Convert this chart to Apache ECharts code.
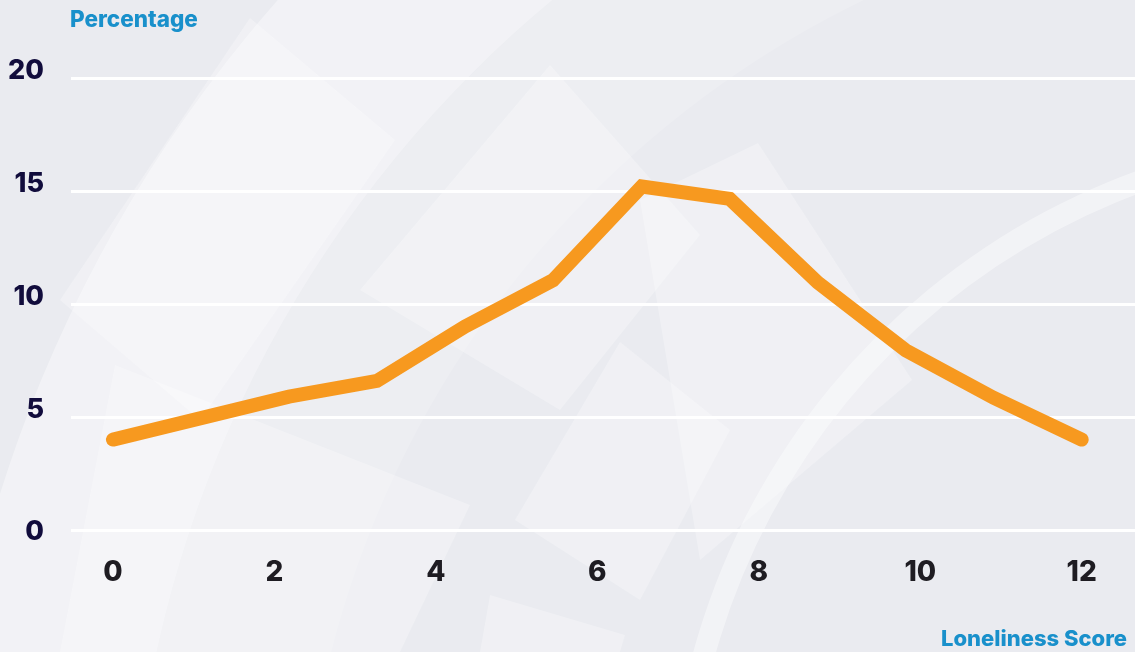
<!DOCTYPE html>
<html lang="en">
<head>
    <meta charset="UTF-8">
    <title>Loneliness Score</title>
    <script src="https://cdn.jsdelivr.net/npm/echarts@6/dist/echarts.min.js"></script>
    <style>
        html, body { margin: 0; padding: 0; background: #eaebf0; }
        #main { width: 1135px; height: 652px; }
    </style>
</head>
<body>
    <div id="main"></div>
    <script>
        // data
        var scores = [0, 1.09, 2.18, 3.27, 4.36, 5.45, 6.55, 7.64, 8.73, 9.82, 10.91, 12];
        var percentages = [4.0, 4.95, 5.9, 6.6, 9.0, 11.05, 15.2, 14.65, 10.95, 7.95, 5.85, 4.0];
        var xTicks = [0, 2, 4, 6, 8, 10, 12];
        var yTicks = [0, 5, 10, 15, 20];

        var points = [];
        for (let i = 0; i < scores.length; i++) {
            points.push([scores[i], percentages[i]]);
        }

        // light background decoration
        var soft = 'rgba(255,255,255,0.28)';
        var decor = [
            { type: 'ring', shape: { cx: 1300, cy: 900, r: 1362, r0: 1170 }, style: { fill: 'rgba(255,255,255,0.38)' } },
            { type: 'ring', shape: { cx: 1300, cy: 900, r: 1170, r0: 1000 }, style: { fill: 'rgba(255,255,255,0.15)' } },
            { type: 'ring', shape: { cx: 1380, cy: 840, r: 712, r0: 690 }, style: { fill: 'rgba(255,255,255,0.4)' } },
            { type: 'polygon', shape: { points: [[250, 18], [395, 140], [200, 420], [60, 300]] }, style: { fill: soft } },
            { type: 'polygon', shape: { points: [[550, 65], [700, 235], [560, 410], [360, 290]] }, style: { fill: soft } },
            { type: 'polygon', shape: { points: [[758, 143], [912, 380], [700, 560], [640, 200]] }, style: { fill: soft } },
            { type: 'polygon', shape: { points: [[115, 365], [470, 505], [400, 652], [60, 652]] }, style: { fill: soft } },
            { type: 'polygon', shape: { points: [[620, 342], [730, 430], [640, 600], [515, 520]] }, style: { fill: soft } },
            { type: 'polygon', shape: { points: [[490, 595], [625, 635], [620, 652], [480, 652]] }, style: { fill: soft } }
        ];
        decor.forEach(function (d) { d.z = -10; d.silent = true; });

        var mycharts = echarts.init(document.getElementById('main'));

        var font = 'Inter';

        var options = {
            backgroundColor: '#eaebf0',
            textStyle: { fontFamily: font },
            graphic: decor,
            title: [{
                text: 'Percentage',
                left: 65,
                top: 4,
                textStyle: { color: '#1990cb', fontSize: 22.5, fontWeight: 800, fontFamily: font }
            }, {
                text: 'Loneliness Score',
                right: 3,
                top: 623,
                textStyle: { color: '#1990cb', fontSize: 22, fontWeight: 800, fontFamily: font }
            }],
            grid: { left: 71, right: 0, top: 78, bottom: 122 },
            xAxis: {
                type: 'value',
                min: -0.52,
                max: 12.66,
                axisLine: { show: false },
                axisTick: { show: false },
                splitLine: { show: false },
                axisLabel: {
                    customValues: xTicks,
                    margin: 29,
                    color: '#1e1c22',
                    fontSize: 28,
                    fontWeight: 800,
                    fontFamily: font
                }
            },
            yAxis: {
                type: 'value',
                min: 0,
                max: 20,
                interval: 5,
                axisLine: { show: false },
                axisTick: { show: false },
                splitLine: { lineStyle: { color: '#ffffff', width: 3 } },
                axisLabel: {
                    customValues: yTicks,
                    margin: 27,
                    formatter: function (v) {
                        return v === 0 ? '{z|0}' : '{n|' + v + '}';
                    },
                    rich: {
                        n: { color: '#110c3c', fontSize: 27, fontWeight: 800, fontFamily: font, padding: [0, 0, 15, 0] },
                        z: { color: '#110c3c', fontSize: 27, fontWeight: 800, fontFamily: font, padding: [4, 0, 0, 0] }
                    }
                }
            },
            series: [{
                type: 'line',
                data: points,
                showSymbol: false,
                symbol: 'none',
                lineStyle: { color: '#f7991f', width: 14, cap: 'round', join: 'miter' },
                z: 5
            }]
        };

        mycharts.setOption(options);
    </script>
</body>
</html>
